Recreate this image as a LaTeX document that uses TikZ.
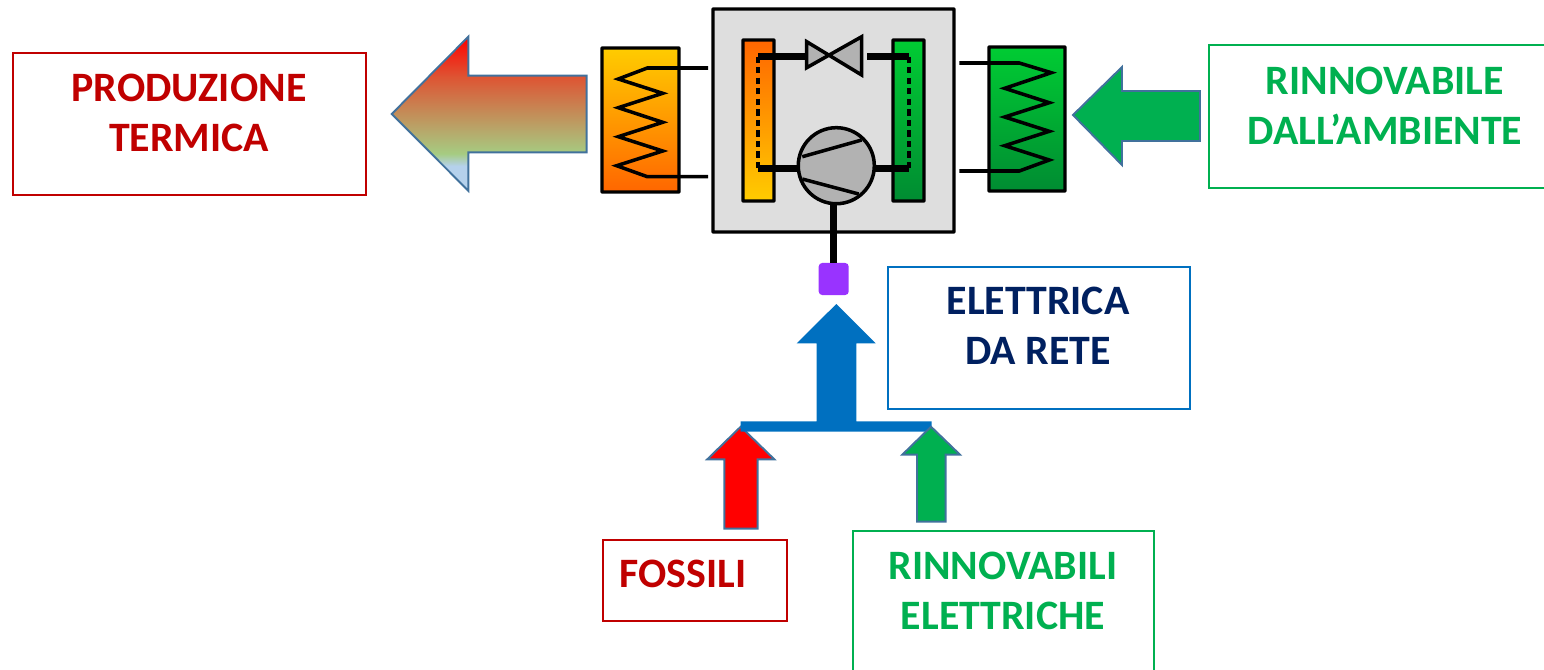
\documentclass[tikz,border=0pt]{standalone}
\usepackage{fontspec}
\usepackage{xcolor}
\setmainfont{Carlito}
\usetikzlibrary{shadings}
\definecolor{darkred}{RGB}{192,0,0}
\definecolor{okgreen}{RGB}{0,176,80}
\definecolor{netblue}{RGB}{0,112,192}
\definecolor{navy}{RGB}{0,32,96}
\definecolor{steel}{RGB}{65,113,156}
\definecolor{plugpurple}{RGB}{153,51,255}
\definecolor{hotyellow}{RGB}{255,204,0}
\definecolor{hotorange}{RGB}{255,102,0}
\definecolor{coldlight}{RGB}{0,204,51}
\definecolor{colddark}{RGB}{0,140,50}
\pgfdeclareverticalshading{heatflow}{100bp}{
  rgb(0bp)=(0.71,0.82,0.925);
  rgb(25bp)=(0.71,0.82,0.925);
  rgb(33bp)=(0.71,0.82,0.925);
  rgb(37bp)=(0.65,0.80,0.51);
  rgb(62bp)=(0.87,0.33,0.20);
  rgb(75bp)=(1,0,0);
  rgb(100bp)=(1,0,0)}
\tikzstyle{outbox} = [rectangle, draw, line width=0.45pt, inner sep=0pt, outer sep=0pt]
\tikzstyle{boxtext} = [align=center, font=\fontsize{11.9}{14.2}\selectfont\bfseries, inner sep=0pt]
\tikzstyle{part} = [rectangle, draw=black, line width=0.95pt, rounded corners=0.15pt, inner sep=0pt, outer sep=0pt]
\tikzstyle{pipe} = [black, line width=1.95pt]
\tikzstyle{thinpipe} = [black, line width=1pt, line join=miter]
\tikzstyle{dots} = [black, line width=0.95pt, dash pattern=on 1.8pt off 1.2pt]
\tikzstyle{blockarrow} = [draw=steel, line width=0.55pt, line join=miter]

\begin{document}
\begin{tikzpicture}[x=0.01cm, y=-0.01cm]
    \useasboundingbox (0,0) rectangle (1544,669);

    \node (produzione) [outbox, draw=darkred, minimum width=3.53cm, minimum height=1.42cm] at (189.5,124) {};
    \node (rinnovabile) [outbox, draw=okgreen, minimum width=3.5cm, minimum height=1.43cm] at (1384,116.5) {};
    \node (elettrica) [outbox, draw=netblue, minimum width=3.02cm, minimum height=1.42cm] at (1039,338) {};
    \node (fossili) [outbox, draw=darkred, minimum width=1.84cm, minimum height=0.81cm] at (695,580.5) {};
    \node (rinnovabili) [outbox, draw=okgreen, minimum width=3.01cm, minimum height=1.5cm] at (1003.5,606) {};

    \node (produzione_text) [boxtext, text=darkred] at (189,113) {PRODUZIONE\\TERMICA};
    \node (rinnovabile_text) [boxtext, text=okgreen] at (1385,105.5) {RINNOVABILE\\DALL’AMBIENTE};
    \node (elettrica_text) [boxtext, text=navy] at (1038,326) {ELETTRICA\\DA RETE};
    \node (fossili_text) [boxtext, text=darkred] at (683,574) {FOSSILI};
    \node (rinnovabili_text) [boxtext, text=okgreen] at (1003,591) {RINNOVABILI\\ELETTRICHE};

    \draw [blockarrow, shading=heatflow] (391.7,114) -- (468.3,36.7) -- (468.3,75.7) -- (586.7,75.7) -- (586.7,152.3) -- (468.3,152.3) -- (468.3,190.7) -- cycle;
    \draw [blockarrow, fill=okgreen] (1073,115) -- (1122,67) -- (1122,91) -- (1200,91) -- (1200,141) -- (1122,141) -- (1122,165) -- cycle;
    \draw [blockarrow, fill=red] (740.7,426.7) -- (774.3,459.3) -- (757.7,459.3) -- (757.7,528.7) -- (724.3,528.7) -- (724.3,459.3) -- (707.3,459.3) -- cycle;
    \fill [netblue] (836.3,304) -- (875.7,343.3) -- (856.3,343.3) -- (856.3,421.3) -- (931.7,421.3) -- (931.7,431.7) -- (740.7,431.7) -- (740.7,421.3) -- (816.7,421.3) -- (816.7,343.3) -- (796.7,343.3) -- cycle;
    \draw [blockarrow, fill=okgreen] (931,426.7) -- (960,454.7) -- (945.7,454.7) -- (945.7,521.7) -- (917,521.7) -- (917,454.7) -- (902.3,454.7) -- cycle;

    \node (pump) [part, fill=black!13, minimum width=2.41cm, minimum height=2.23cm] at (833.5,120.5) {};
    \node (hot_tank) [part, top color=hotyellow, bottom color=hotorange, minimum width=0.77cm, minimum height=1.44cm] at (640.5,120) {};
    \node (cold_tank) [part, top color=coldlight, bottom color=colddark, minimum width=0.76cm, minimum height=1.44cm] at (1027,119) {};
    \node (hot_plate) [part, top color=hotorange, bottom color=hotyellow, minimum width=0.31cm, minimum height=1.61cm] at (758.5,120.5) {};
    \node (cold_plate) [part, top color=coldlight, bottom color=colddark, minimum width=0.31cm, minimum height=1.61cm] at (908.5,120.5) {};

    \coordinate (hot_top) at (758,56.5);
    \coordinate (hot_bottom) at (758,168.3);
    \coordinate (cold_top) at (909,56.5);
    \coordinate (cold_bottom) at (909,168.3);
    \coordinate (valve_left) at (807,56.5);
    \coordinate (valve_right) at (867,56.5);

    \draw [dots] (hot_top) -- (hot_bottom);
    \draw [dots] (cold_top) -- (cold_bottom);
    \draw [pipe] (hot_top) -- (valve_left);
    \draw [pipe] (valve_right) -- (cold_top);
    \draw [pipe] (hot_bottom) -- (cold_bottom);

    \draw [thinpipe, fill=black!30] (806.7,41.7) -- (806.7,67.7) -- (861.7,36.7) -- (861.7,75) -- cycle;

    \node (plug) [rectangle, rounded corners=1pt, fill=plugpurple, minimum width=0.3cm, minimum height=0.32cm, inner sep=0pt, outer sep=0pt] at (833.7,279) {};
    \node (compressor) [circle, draw=black, line width=1pt, fill=black!30, minimum size=0.76cm, inner sep=0pt, outer sep=0pt] at (836.3,165.7) {};
    \draw [pipe] (plug.north) -- (plug.north |- compressor.south);
    \draw [thinpipe] (802.3,156.7) -- (861.7,140);
    \draw [thinpipe] (802.3,179) -- (858.7,194);

    \draw [thinpipe] (708,68) -- (647.3,68) -- (618.3,79) -- (662.7,93.3) -- (618.3,107.7) -- (662.7,122.3) -- (618.3,136.7) -- (662.7,151) -- (616.7,165.7) -- (647.3,176.7) -- (708,176.7);
    \draw [thinpipe] (959.3,63) -- (1019.3,63) -- (1051.3,72.7) -- (1004.7,88.3) -- (1049.3,102.7) -- (1004.7,117) -- (1049.3,131.3) -- (1004.7,145.7) -- (1049.3,160) -- (1019.3,171) -- (959.3,171);
\end{tikzpicture}
\end{document}
